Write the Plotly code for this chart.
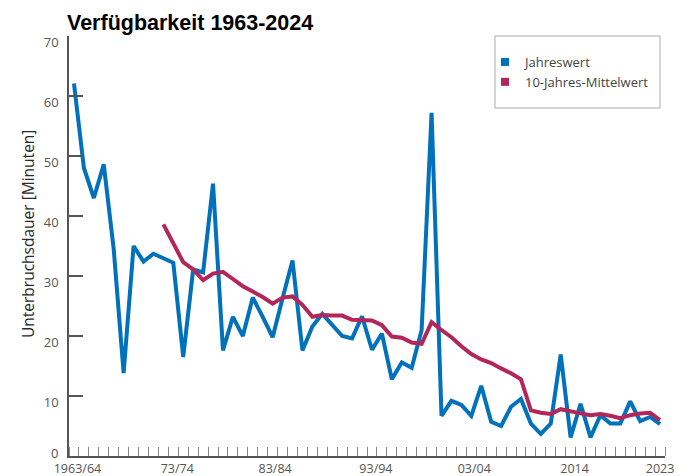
import plotly.graph_objects as go

# ---- data ----
years = list(range(1964, 2024))  # 60 annual values

jahreswert = [62.1, 48.0, 43.0, 48.6, 34.5, 13.8, 35.0, 32.4, 33.7, 33.0,
              32.2, 16.5, 31.1, 30.6, 45.4, 17.6, 23.2, 20.0, 26.4, 23.2,
              19.8, 26.3, 32.6, 17.6, 21.6, 23.7, 21.9, 20.0, 19.6, 23.3,
              17.7, 20.4, 12.8, 15.6, 14.7, 21.0, 57.2, 6.7, 9.2, 8.5,
              6.7, 11.7, 5.7, 5.0, 8.2, 9.5, 5.4, 3.7, 5.4, 16.9,
              3.1, 8.7, 3.1, 6.8, 5.4, 5.4, 9.1, 5.8, 6.5, 5.3]

mittelwert = [None] * 9 + [
    38.6, 35.5, 32.3, 31.1, 29.3, 30.4, 30.7, 29.5, 28.3, 27.4, 26.5,
    25.4, 26.4, 26.6, 25.2, 23.2, 23.5, 23.4, 23.4, 22.7, 22.7,
    22.6, 21.8, 19.9, 19.7, 18.9, 18.7, 22.3, 21.0, 19.8, 18.3,
    17.0, 16.1, 15.5, 14.6, 13.8, 12.8, 7.6, 7.2, 7.0, 7.8,
    7.4, 7.1, 6.8, 7.0, 6.7, 6.3, 6.8, 7.1, 7.2, 6.0]

tick_labels = ["1963/64", "73/74", "83/84", "93/94", "03/04", "2014", "2023"]
tick_positions = [1964.35, 1974.4, 1984.25, 1994.4, 2004.3, 2014.4, 2023.0]
y_ticks = [10, 20, 30, 40, 50, 60, 70]

BLUE = "#0071BB"
RED = "#B32659"
AXIS = "#555555"
TXT = "#555555"

fig = go.Figure()
fig.add_trace(go.Scatter(x=years, y=jahreswert, mode="lines", name="Jahreswert",
                         line=dict(color=BLUE, width=4), showlegend=False))
fig.add_trace(go.Scatter(x=years, y=mittelwert, mode="lines", name="10-Jahres-Mittelwert",
                         line=dict(color=RED, width=4), showlegend=False))
# legend entries with square symbols
fig.add_trace(go.Scatter(x=[None], y=[None], mode="markers", name="Jahreswert",
                         marker=dict(symbol="square", size=8, color=BLUE)))
fig.add_trace(go.Scatter(x=[None], y=[None], mode="markers", name="10-Jahres-Mittelwert",
                         marker=dict(symbol="square", size=8, color=RED)))

L, R, T, B = 69, 14, 36, 20
W, H = 679, 476
pw, ph = W - L - R, H - T - B

def px_x(p):
    return (p - L) / pw

def px_y(p):
    return (H - B - p) / ph

fig.update_layout(
    width=W, height=H,
    margin=dict(l=L, r=R, t=T, b=B, autoexpand=False),
    paper_bgcolor="white", plot_bgcolor="white",
    font=dict(family="Open Sans, Noto Sans, sans-serif", color=TXT, size=13),
    title=dict(text="<b>Verfügbarkeit 1963-2024</b>",
               font=dict(family="Liberation Sans, Arial, sans-serif",
                         size=21.5, color="black"),
               x=67 / W, xref="container", xanchor="left",
               y=1 - 22 / H, yref="container", yanchor="middle"),
    legend=dict(x=px_x(485), y=px_y(47), xanchor="left", yanchor="top",
                bgcolor="rgba(0,0,0,0)", borderwidth=0,
                font=dict(family="Open Sans, Noto Sans, sans-serif", size=13, color="#444444"),
                tracegroupgap=0, itemwidth=30),
    xaxis=dict(range=[1963.5, 2023.5], showgrid=False, zeroline=False, automargin=False,
               showline=True, linecolor=AXIS, linewidth=1.5,
               tickmode="array", tickvals=tick_positions, ticktext=tick_labels,
               ticks="", tickfont=dict(size=12.5, color=TXT), ticklabelstandoff=0,
               minor=dict(tickmode="linear", tick0=1963.5, dtick=1, ticks="inside",
                          ticklen=9, tickwidth=1.2, tickcolor="#888888", showgrid=False)),
    yaxis=dict(range=[0, 70], showgrid=False, zeroline=False, automargin=False,
               showline=True, linecolor=AXIS, linewidth=1.5,
               tickmode="array", tickvals=y_ticks,
               ticks="inside", ticklen=14, tickwidth=1.5, tickcolor=AXIS,
               tickfont=dict(size=13, color=TXT),
               ticklabelshift=6, ticklabelstandoff=6),
    shapes=[dict(type="rect", xref="paper", yref="paper",
                 x0=px_x(495), x1=px_x(660), y0=px_y(108), y1=px_y(36),
                 line=dict(color="#AAAAAA", width=1), fillcolor="rgba(0,0,0,0)", layer="below")],
    annotations=[
        dict(text="Unterbruchsdauer [Minuten]", textangle=-90, xref="paper", yref="paper",
             x=px_x(28), y=px_y(234), xanchor="center", yanchor="middle", showarrow=False,
             font=dict(family="Open Sans, Noto Sans, sans-serif", size=15.5, color="#2a2a2a")),
        dict(text="0", xref="paper", yref="y", x=px_x(60), y=0, xanchor="right",
             yanchor="middle", yshift=3, showarrow=False,
             font=dict(family="Open Sans, Noto Sans, sans-serif", size=13, color=TXT)),
    ],
)

fig.write_html("out.html", config={"displayModeBar": False},
               post_script="document.body.style.margin='0px';document.body.style.padding='0px';")
